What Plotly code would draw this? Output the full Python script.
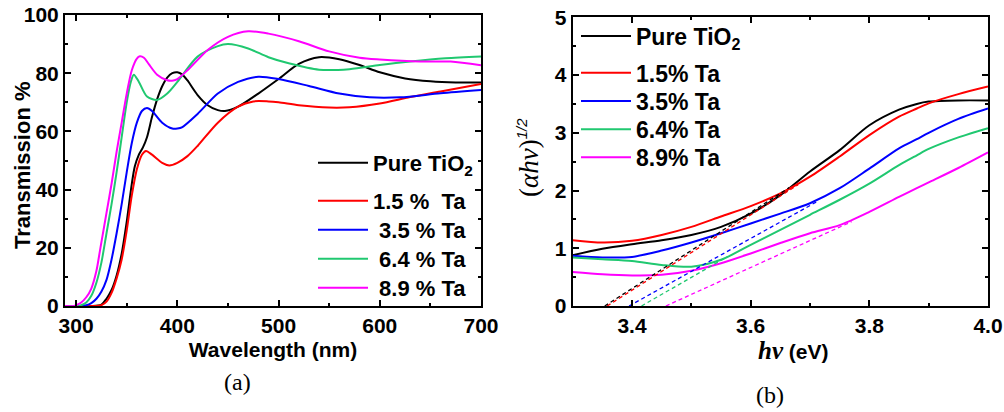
import plotly.graph_objects as go

# ---------------- Panel (a): transmission spectra ----------------
wl_pure = [289, 300, 315, 325, 330, 335, 340, 345, 350, 355, 358, 362, 366, 370, 375, 380, 385, 390, 395, 400, 405, 410, 420, 430, 440, 447, 460, 480, 500, 520, 540, 560, 580, 600, 625, 650, 675, 700]
T_pure = [0, 0, 0, 0.5, 2.5, 5.5, 10.5, 18, 29, 42, 48, 52, 54.5, 58, 65, 71, 75.5, 78.5, 80, 80.3, 79.5, 77.5, 72.5, 69, 67.3, 67, 68.5, 73, 78, 83.2, 85.5, 84.8, 82.8, 80.3, 78.2, 77.2, 76.8, 76.8]

wl_15 = [289, 300, 315, 325, 330, 335, 340, 345, 350, 355, 360, 365, 369, 375, 385, 392, 400, 410, 420, 440, 460, 475, 490, 500, 520, 550, 570, 600, 630, 660, 700]
T_15 = [0, 0, 0, 0.3, 1.5, 4.5, 9.5, 16, 26, 38, 47, 52, 53.3, 52, 49.2, 48.3, 49.2, 51.5, 55, 63, 68.5, 70.3, 70.3, 70, 69, 68.2, 68.3, 69.6, 71.8, 73.7, 76.3]

wl_35 = [289, 300, 310, 315, 320, 325, 330, 335, 340, 345, 350, 355, 360, 365, 370, 375, 385, 395, 400, 405, 420, 440, 460, 480, 500, 530, 560, 590, 620, 660, 700]
T_35 = [0, 0, 0.3, 1, 2.5, 5, 9, 16, 25, 35, 46, 56, 63, 67, 68, 67, 63, 61, 61, 61.5, 66, 73, 77, 78.8, 78, 75.6, 73, 71.7, 71.7, 73.1, 74.2]

wl_64 = [289, 300, 305, 310, 315, 320, 325, 330, 335, 340, 345, 350, 354, 357, 362, 370, 380, 390, 400, 420, 440, 450, 470, 490, 510, 540, 570, 600, 630, 665, 700]
T_64 = [0, 0, 0.3, 1.2, 3.5, 8, 15, 25, 35, 46, 58, 70, 77, 79.5, 77, 72, 70.8, 73, 77, 85.7, 89.3, 90, 88.5, 85.5, 83.4, 81.2, 81.4, 82.8, 84, 85.1, 85.7]

wl_89 = [289, 298, 300, 305, 310, 315, 320, 324, 330, 335, 340, 345, 350, 355, 360, 363, 367, 372, 380, 390, 396, 400, 410, 430, 450, 470, 490, 520, 550, 580, 600, 640, 670, 700]
T_89 = [0, 0, 0.3, 1.2, 3, 6, 12, 20, 32, 42, 53, 63, 73, 81, 85, 85.8, 85.3, 83, 79.5, 77.6, 77.5, 78, 81, 88, 92.5, 94.4, 93.6, 91, 87.5, 85.3, 84.7, 84, 84, 82.7]

# ---------------- Panel (b): Tauc plots ----------------
E = [3.30, 3.35, 3.40, 3.45, 3.50, 3.55, 3.60, 3.65, 3.70, 3.75, 3.80, 3.85, 3.88, 3.90, 3.95, 4.00]
A_pure = [0.88, 0.99, 1.07, 1.14, 1.23, 1.37, 1.60, 1.92, 2.33, 2.70, 3.13, 3.40, 3.50, 3.54, 3.56, 3.56]
A_15 = [1.14, 1.10, 1.13, 1.23, 1.37, 1.55, 1.73, 1.95, 2.24, 2.59, 2.96, 3.28, 3.42, 3.51, 3.67, 3.80]
A_35 = [0.87, 0.84, 0.85, 0.96, 1.10, 1.26, 1.43, 1.60, 1.78, 2.04, 2.38, 2.73, 2.89, 3.00, 3.24, 3.42]
A_64 = [0.84, 0.81, 0.78, 0.71, 0.68, 0.80, 1.06, 1.32, 1.58, 1.84, 2.12, 2.44, 2.61, 2.72, 2.92, 3.08]
A_89 = [0.59, 0.55, 0.53, 0.54, 0.61, 0.74, 0.91, 1.09, 1.26, 1.40, 1.63, 1.89, 2.04, 2.14, 2.39, 2.66]

# linear-fit (band-gap extrapolation) lines: start on the energy axis, end point
fit_x0 = [3.354, 3.358, 3.395, 3.416, 3.457]
fit_x1 = [3.665, 3.680, 3.714, 3.560, 3.770]
fit_y1 = [2.05, 2.10, 1.82, 0.85, 1.46]

colors = ["#000000", "#ff0000", "#0000ff", "#20c870", "#ff00ff"]
names_a = ["Pure TiO<sub>2</sub>", "1.5 %\u00a0\u00a0Ta", "\u00a03.5 % Ta", "\u00a06.4 % Ta", "\u00a08.9 % Ta"]
names_b = ["Pure TiO<sub>2</sub>", "1.5% Ta", "3.5% Ta", "6.4% Ta", "8.9% Ta"]

W, H = 1004, 412
SANS = "Liberation Sans, Arial, sans-serif"
SERIF = "Liberation Serif, Times New Roman, serif"

# legend row positions (pixels from top) for each panel
leg_rows_a = [163, 201, 230, 259, 288]
leg_rows_b = [36, 72.7, 101, 129.3, 157.3]

fig = go.Figure()
legends = {}

series_a = [(wl_pure, T_pure), (wl_15, T_15), (wl_35, T_35), (wl_64, T_64), (wl_89, T_89)]
for i, ((xs, ys), c, n) in enumerate(zip(series_a, colors, names_a)):
    lid = "legend" if i == 0 else f"legend{i + 1}"
    fig.add_trace(go.Scatter(x=xs, y=ys, mode="lines", name=n,
                             line=dict(color=c, width=2, shape="spline", smoothing=0.8),
                             xaxis="x", yaxis="y", legend=lid))
    legends[lid] = dict(x=313 / W, y=(H - leg_rows_a[i]) / H, xanchor="left", yanchor="middle",
                        bgcolor="rgba(0,0,0,0)", borderwidth=0, itemwidth=50,
                        font=dict(family=SANS, size=22, color="black", weight="bold"))

series_b = [A_pure, A_15, A_35, A_64, A_89]
for i, (ys, c, n) in enumerate(zip(series_b, colors, names_b)):
    lid = f"legend{i + 6}"
    fig.add_trace(go.Scatter(x=E, y=ys, mode="lines", name=n,
                             line=dict(color=c, width=2, shape="spline", smoothing=0.8),
                             xaxis="x2", yaxis="y2", legend=lid))
    legends[lid] = dict(x=576 / W, y=(H - leg_rows_b[i]) / H, xanchor="left", yanchor="middle",
                        bgcolor="rgba(0,0,0,0)", borderwidth=0, itemwidth=50,
                        font=dict(family=SANS, size=23, color="black", weight="bold"))

for x0, x1, y1, c in zip(fit_x0, fit_x1, fit_y1, colors):
    fig.add_trace(go.Scatter(x=[x0, x1], y=[0, y1], mode="lines", showlegend=False,
                             line=dict(color=c, width=1.3, dash="4px,3px"),
                             xaxis="x2", yaxis="y2"))

tickfont = dict(family=SANS, size=21, color="black", weight="bold")
common = dict(showline=True, linewidth=2, linecolor="black", mirror="allticks",
              ticks="inside", ticklen=6, tickwidth=2, tickcolor="black",
              showgrid=False, zeroline=False, tickfont=tickfont, automargin=False)

fig.update_layout(
    width=W, height=H, autosize=False,
    margin=dict(l=0, r=0, t=0, b=0, pad=0),
    paper_bgcolor="white", plot_bgcolor="white",
    xaxis=dict(domain=[65 / W, 481 / W], range=[289, 700], tick0=300, dtick=100,
               anchor="y",
               minor=dict(ticks="inside", ticklen=3, tickwidth=2, dtick=50, tick0=300, tickcolor="black"),
               title=dict(text="Wavelength (nm)", font=dict(family=SANS, size=21, color="black", weight="bold"),
                          standoff=6),
               **common),
    yaxis=dict(domain=[(H - 306) / H, (H - 15) / H], range=[0, 100], dtick=20,
               anchor="x",
               minor=dict(ticks="inside", ticklen=3, tickwidth=2, dtick=10, tickcolor="black"),
               **common),
    xaxis2=dict(domain=[572.7 / W, 988 / W], range=[3.3, 4.0], tick0=3.4, dtick=0.2,
                anchor="y2", tickformat=".1f",
                minor=dict(ticks="inside", ticklen=3, tickwidth=2, dtick=0.1, tick0=3.3, tickcolor="black"),
                **common),
    yaxis2=dict(domain=[(H - 306) / H, (H - 17.3) / H], range=[0, 5], dtick=1,
                anchor="x2",
                minor=dict(ticks="inside", ticklen=3, tickwidth=2, dtick=0.5, tickcolor="black"),
                **common),
    annotations=[
        dict(text="Transmission %", x=22 / W, y=(H - 165) / H, xref="paper", yref="paper",
             textangle=-90, showarrow=False, xanchor="center", yanchor="middle",
             font=dict(family=SANS, size=22, color="black", weight="bold")),
        dict(text="(<i>αhν</i>)<sup><span style=\"font-family:" + SANS + ";font-size:15px\"><i>1/2</i></span></sup>",
             x=528 / W, y=(H - 158) / H, xref="paper", yref="paper",
             textangle=-90, showarrow=False, xanchor="center", yanchor="middle",
             font=dict(family=SERIF, size=27, color="black")),
        dict(text="<span style=\"font-family:" + SERIF + ";font-size:25px\"><i>hν</i></span> (eV)",
             x=793 / W, y=(H - 350) / H, xref="paper", yref="paper",
             showarrow=False, xanchor="center", yanchor="middle",
             font=dict(family=SANS, size=21, color="black", weight="bold")),
        dict(text="(a)", x=237 / W, y=(H - 382) / H, xref="paper", yref="paper",
             xanchor="center", yanchor="middle",
             showarrow=False, font=dict(family=SERIF, size=24, color="black")),
        dict(text="(b)", x=770 / W, y=(H - 395) / H, xref="paper", yref="paper",
             xanchor="center", yanchor="middle",
             showarrow=False, font=dict(family=SERIF, size=24, color="black")),
    ],
    **legends,
)

fig.write_html("out.html",
               config={"displayModeBar": False, "responsive": False},
               post_script="document.body.style.margin='0';document.body.style.padding='0';"
                           "document.documentElement.style.overflow='hidden';")
